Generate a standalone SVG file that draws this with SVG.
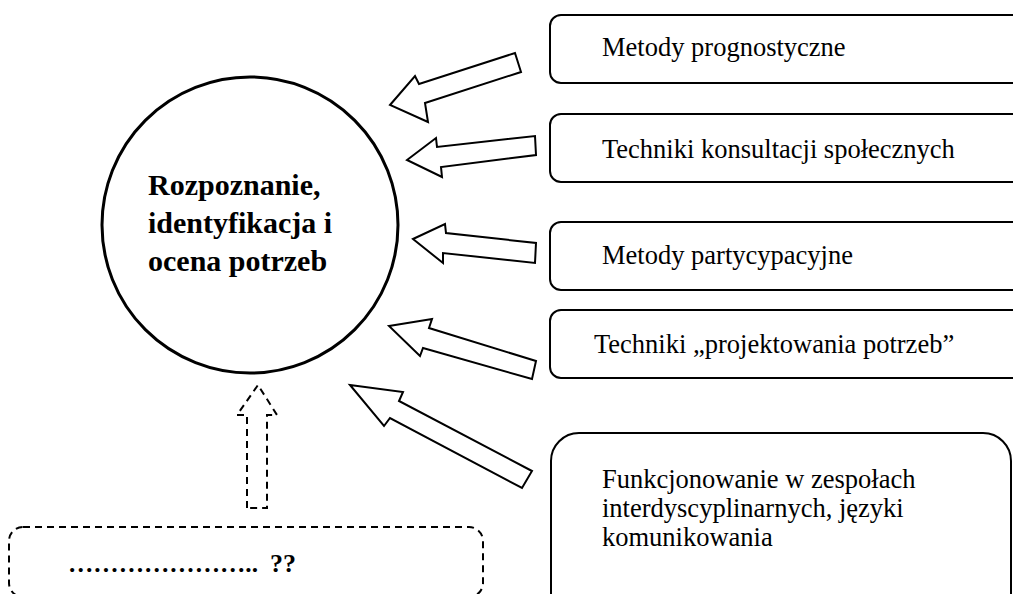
<svg xmlns="http://www.w3.org/2000/svg" width="1013" height="594" viewBox="0 0 1013 594">
<style>
.box{fill:#fff;stroke:#000;stroke-width:2}
.arr{fill:#fff;stroke:#000;stroke-width:2;stroke-linejoin:miter}
.dash{fill:none;stroke:#000;stroke-width:2;stroke-dasharray:7 5}
text{font-family:"Times New Roman","Liberation Serif","DejaVu Serif",serif;fill:#000}
.t{font-size:26.5px}
.b{font-size:30px;font-weight:bold}
</style>
<rect width="1013" height="594" fill="#fff"/>
<g id="connectors">
<polygon class="arr" points="515,53 521,72 425,103 428,122 390,105 415,76 419,84"/>
<polygon class="arr" points="535,136 536,155 441,167 442,177 407,160 436,138 437,147"/>
<polygon class="arr" points="413,239 445,224 446,233 536,243 535,263 443,253 443,263"/>
<polygon class="arr" points="389,326 432,319 429,328 536,361 532,379 423,348 420,356"/>
<polygon class="arr" points="350,385 403,392 399,401 532,471 522,488 390,418 384,426"/>
<polygon class="dash" points="247,508 247,415 237,415 258,385 277,415 267,415 267,508"/>
</g>
<g id="center">
<circle cx="250" cy="225" r="148" fill="#fff" stroke="#000" stroke-width="3"/>
<text class="b" x="148" y="195">Rozpoznanie,</text>
<text class="b" x="148" y="233">identyfikacja i</text>
<text class="b" x="148" y="271">ocena potrzeb</text>
</g>
<g id="box1">
<rect class="box" x="550" y="15" width="480" height="68" rx="11"/>
<text class="t" x="602" y="56">Metody prognostyczne</text>
</g>
<g id="box2">
<rect class="box" x="550" y="114" width="480" height="68" rx="11"/>
<text class="t" x="602" y="158">Techniki konsultacji społecznych</text>
</g>
<g id="box3">
<rect class="box" x="550" y="222" width="480" height="68" rx="11"/>
<text class="t" x="602" y="264">Metody partycypacyjne</text>
</g>
<g id="box4">
<rect class="box" x="550" y="310" width="480" height="68" rx="11"/>
<text class="t" x="594" y="353">Techniki „projektowania potrzeb”</text>
</g>
<g id="box5">
<rect class="box" x="551" y="433" width="460" height="200" rx="28"/>
<text class="t" x="602" y="488">Funkcjonowanie w zespołach</text>
<text class="t" x="602" y="517">interdyscyplinarnych, języki</text>
<text class="t" x="602" y="546">komunikowania</text>
</g>
<g id="box6">
<rect class="dash" x="9" y="527" width="474" height="70" rx="14"/>
<text class="b" x="68" y="572" style="font-size:26px"><tspan textLength="190" lengthAdjust="spacingAndGlyphs">…………………..</tspan><tspan x="270">??</tspan></text>
</g>
</svg>
